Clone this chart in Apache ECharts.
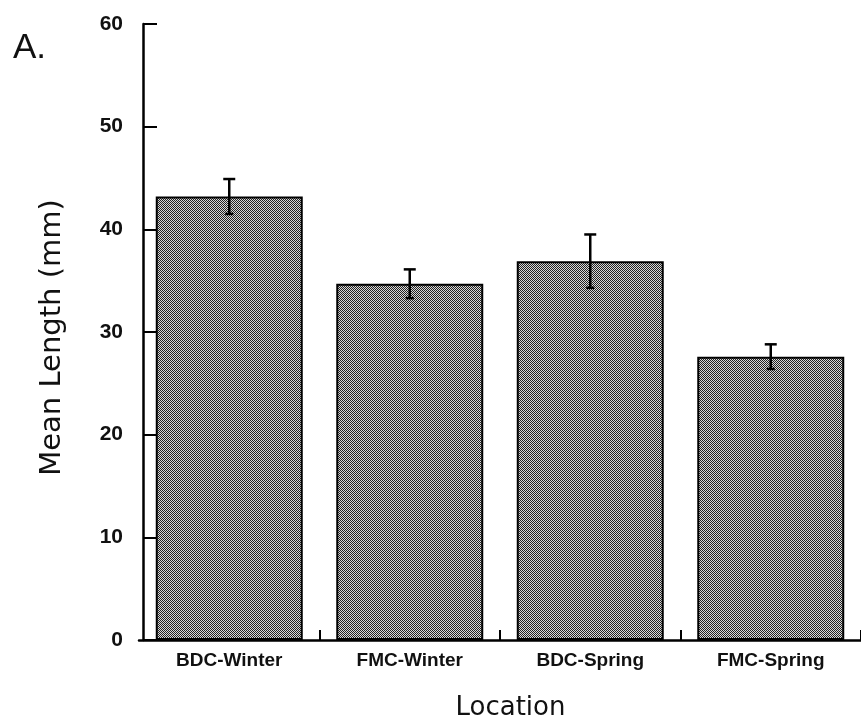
<!DOCTYPE html>
<html>
<head>
<meta charset="utf-8">
<title>Mean Length by Location</title>
<script src="https://cdn.jsdelivr.net/npm/echarts@6/dist/echarts.min.js"></script>
<style>
  html, body { margin: 0; padding: 0; background: #ffffff; }
  #chart { width: 861px; height: 726px; }
</style>
</head>
<body>
<div id="chart"></div>
<script>
// Sampling groups, mean body length (mm) and the ± error for each group
const categories = ['BDC-Winter', 'FMC-Winter', 'BDC-Spring', 'FMC-Spring'];
const meanLength = [43.2, 34.7, 36.9, 27.6];
const errorSize = [1.7, 1.4, 2.6, 1.2];
const yTicks = [0, 10, 20, 30, 40, 50, 60];

// Stippled grey fill for the bars (fine black/white dither)
function stipple() {
  const c = document.createElement('canvas');
  c.width = 4; c.height = 4;
  const g = c.getContext('2d');
  for (let y = 0; y < 4; y++) {
    for (let x = 0; x < 4; x++) {
      g.fillStyle = ((x + y) % 2 === 0) ? '#222222' : '#d8d8d8';
      g.fillRect(x, y, 1, 1);
    }
  }
  return c;
}

const errorData = categories.map((c, i) => [i, meanLength[i] - errorSize[i], meanLength[i] + errorSize[i]]);

const chart = echarts.init(document.getElementById('chart'), null, { renderer: 'canvas' });

chart.setOption({
  backgroundColor: '#ffffff',
  animation: false,
  grid: { left: 139, top: 24, width: 732, bottom: 83.5, containLabel: false },
  xAxis: {
    type: 'category',
    data: categories,
    boundaryGap: true,
    name: 'Location',
    nameLocation: 'middle',
    nameGap: 55,
    nameTextStyle: { fontFamily: 'DejaVu Sans', fontSize: 26, color: '#111', padding: [0, 0, 0, 21] },
    axisLine: { show: true, lineStyle: { color: '#000', width: 2.5 } },
    axisTick: {
      show: true, inside: true, length: 10,
      interval: (i) => i !== 0,
      lineStyle: { color: '#000', width: 2 }
    },
    axisLabel: {
      margin: 11,
      fontFamily: 'Liberation Sans', fontWeight: 'bold', fontSize: 19, color: '#111'
    },
    splitLine: { show: false }
  },
  yAxis: {
    type: 'value',
    min: yTicks[0],
    max: yTicks[yTicks.length - 1],
    interval: yTicks[1] - yTicks[0],
    offset: -4,
    name: 'Mean Length (mm)',
    nameLocation: 'middle',
    nameGap: 76,
    nameRotate: 90,
    nameTextStyle: { fontFamily: 'DejaVu Sans', fontSize: 29, color: '#111', padding: [0, 11, 0, 0] },
    axisLine: { show: true, lineStyle: { color: '#000', width: 2.5 } },
    axisTick: { show: true, inside: true, length: 14, lineStyle: { color: '#000', width: 2 } },
    axisLabel: {
      margin: 20,
      fontFamily: 'Liberation Sans', fontWeight: 'bold', fontSize: 21, color: '#111'
    },
    splitLine: { show: false }
  },
  series: [
    {
      type: 'bar',
      data: meanLength,
      barWidth: 147,
      itemStyle: {
        color: { image: stipple(), repeat: 'repeat' },
        borderColor: '#000',
        borderWidth: 2
      },
      z: 2
    },
    {
      type: 'custom',
      data: errorData,
      z: 5,
      renderItem: function (params, api) {
        const i = api.value(0);
        const lo = api.coord([i, api.value(1)]);
        const hi = api.coord([i, api.value(2)]);
        const style = { stroke: '#000', lineWidth: 2.5 };
        return {
          type: 'group',
          children: [
            { type: 'line', shape: { x1: hi[0], y1: hi[1], x2: lo[0], y2: lo[1] }, style: style },
            { type: 'line', shape: { x1: hi[0] - 6, y1: hi[1], x2: hi[0] + 6, y2: hi[1] }, style: style },
            { type: 'line', shape: { x1: lo[0] - 4, y1: lo[1], x2: lo[0] + 4, y2: lo[1] }, style: style }
          ]
        };
      }
    }
  ],
  graphic: [
    {
      type: 'text',
      left: 13,
      top: 31,
      style: { text: 'A.', fontFamily: 'Liberation Sans', fontSize: 35, fill: '#111' }
    }
  ]
});
</script>
</body>
</html>
